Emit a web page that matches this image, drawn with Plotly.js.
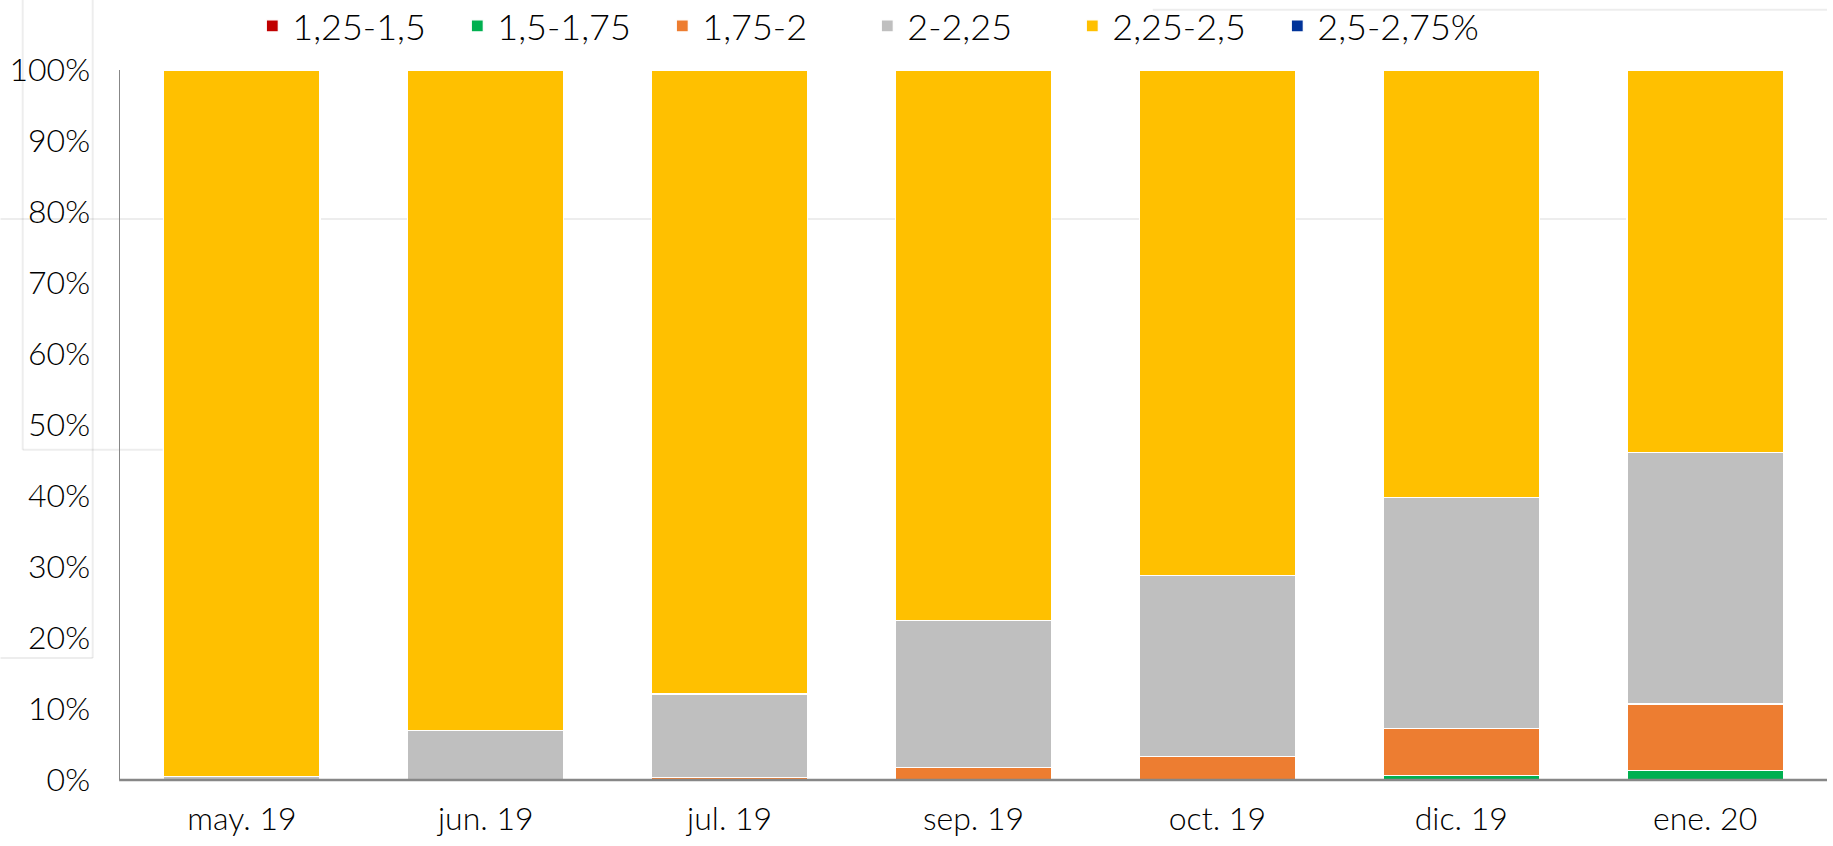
<!DOCTYPE html>
<html>
<head>
<meta charset="utf-8">
<script src="https://cdn.plot.ly/plotly-3.0.1.min.js"></script>
<style>
html,body{margin:0;padding:0;background:#ffffff;}
#chart{width:1833px;height:846px;}
</style>
</head>
<body>
<div id="chart"></div>
<script>
const categories = ["may. 19", "jun. 19", "jul. 19", "sep. 19", "oct. 19", "dic. 19", "ene. 20"];
const seriesNames = ["1,25-1,5", "1,5-1,75", "1,75-2", "2-2,25", "2,25-2,5", "2,5-2,75%"];
const seriesColors = ["#C00000", "#00B050", "#ED7D31", "#BFBFBF", "#FFC000", "#003399"];
const s125_150 = [0, 0, 0, 0, 0, 0, 0];
const s150_175 = [0, 0, 0, 0, 0.1, 0.6, 1.3];
const s175_200 = [0, 0, 0.3, 1.8, 3.2, 6.7, 9.4];
const s200_225 = [0.5, 7.0, 11.8, 20.7, 25.5, 32.5, 35.4];
const s225_250 = [99.5, 93.0, 87.9, 77.5, 71.2, 60.2, 53.9];
const s250_275 = [0, 0, 0, 0, 0, 0, 0];
const seriesValues = [s125_150, s150_175, s175_200, s200_225, s225_250, s250_275];

const FONT = "Lato, 'Open Sans', sans-serif";

const traces = seriesValues.map((vals, i) => ({
  type: "bar",
  name: seriesNames[i],
  x: categories,
  y: vals.map(v => (v === 0 ? null : v / 100)),
  marker: {color: seriesColors[i], line: {color: "#ffffff", width: 1.2}},
  hoverinfo: "x+y+name"
}));

const faint = "rgba(0,0,0,0.07)";
const layout = {
  width: 1833,
  height: 846,
  barmode: "stack",
  bargap: 0.36,
  paper_bgcolor: "#ffffff",
  plot_bgcolor: "rgba(0,0,0,0)",
  margin: {l: 120, r: 6, t: 70, b: 66, autoexpand: false},
  font: {family: FONT, size: 32, color: "#000000", weight: 300},
  showlegend: true,
  legend: {
    orientation: "h",
    x: 0.0775, xanchor: "left",
    y: 1.062, yanchor: "middle",
    yref: "paper",
    font: {family: FONT, size: 36, color: "#000000", weight: 300},
    itemwidth: 30,
    entrywidth: 160,
    entrywidthmode: "pixels",
    traceorder: "normal",
    bgcolor: "rgba(0,0,0,0)"
  },
  xaxis: {
    type: "category",
    showgrid: false,
    showline: false,
    ticks: "",
    ticklabelstandoff: 17,
    tickfont: {family: FONT, size: 32, color: "#000000", weight: 300},
    zeroline: false
  },
  yaxis: {
    range: [0, 1],
    tickvals: [0, 0.1, 0.2, 0.3, 0.4, 0.5, 0.6, 0.7, 0.8, 0.9, 1.0],
    tickformat: ".0%",
    showgrid: false,
    showline: true,
    linecolor: "#878787",
    linewidth: 1.5,
    ticks: "",
    ticklabelstandoff: 22,
    tickfont: {family: FONT, size: 32, color: "#000000", weight: 300},
    zeroline: false
  },
  shapes: [
    {type: "line", xref: "paper", yref: "paper", layer: "below", x0: -0.07, x1: 1.0, y0: 0.79, y1: 0.79, line: {color: faint, width: 2}},
    {type: "line", xref: "paper", yref: "paper", layer: "below", x0: -0.057, x1: -0.057, y0: 1.1, y1: 0.465, line: {color: faint, width: 2}},
    {type: "line", xref: "paper", yref: "paper", layer: "below", x0: -0.057, x1: 0.025, y0: 0.465, y1: 0.465, line: {color: faint, width: 2}},
    {type: "line", xref: "paper", yref: "paper", layer: "below", x0: -0.016, x1: -0.016, y0: 1.1, y1: 0.172, line: {color: faint, width: 2}},
    {type: "line", xref: "paper", yref: "paper", layer: "below", x0: -0.07, x1: -0.016, y0: 0.172, y1: 0.172, line: {color: faint, width: 2}},
    {type: "line", xref: "paper", yref: "paper", layer: "below", x0: 0.605, x1: 1.0, y0: 1.085, y1: 1.085, line: {color: faint, width: 2}},
    {type: "line", xref: "paper", yref: "paper", layer: "above", x0: -0.0005, x1: 1.0, y0: 0, y1: 0, line: {color: "#878787", width: 2.6}}
  ]
};

Plotly.newPlot("chart", traces, layout, {displayModeBar: false, staticPlot: true});
</script>
</body>
</html>
